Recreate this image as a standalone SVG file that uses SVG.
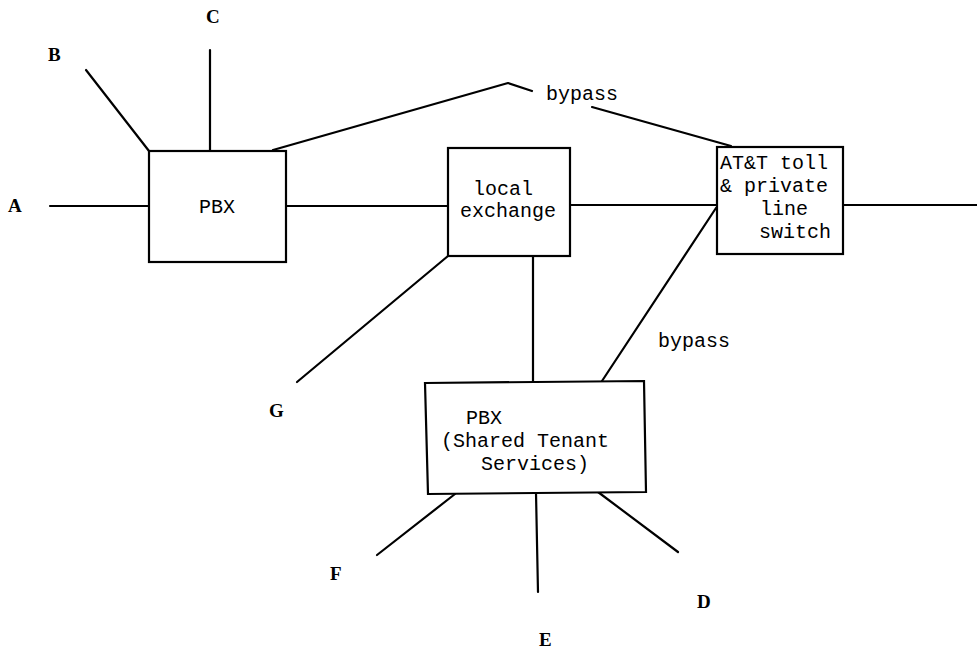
<svg xmlns="http://www.w3.org/2000/svg" width="977" height="651" viewBox="0 0 977 651">
<style>
.bx{fill:#fff;stroke:#000;stroke-width:2.2}
.ln{stroke:#000;stroke-width:2.2;fill:none;stroke-linecap:round;stroke-linejoin:round}
.t{font-family:"Liberation Mono","Courier New",monospace;font-size:20px;fill:#000}
.lb{font-family:"Liberation Serif","Times New Roman",serif;font-size:19px;font-weight:bold;fill:#000}
</style>
<rect width="977" height="651" fill="#fff"/>
<g id="connectors">
<line class="ln" x1="50" y1="206" x2="149" y2="206"/>
<line class="ln" x1="86" y1="70" x2="149" y2="151"/>
<line class="ln" x1="210" y1="50" x2="210" y2="151"/>
<polyline class="ln" points="273,150 508,83 532,91"/>
<line class="ln" x1="592" y1="107" x2="731" y2="146"/>
<line class="ln" x1="286" y1="206" x2="448" y2="206"/>
<line class="ln" x1="570" y1="205" x2="717" y2="205"/>
<line class="ln" x1="843" y1="205" x2="977" y2="205"/>
<line class="ln" x1="448" y1="256" x2="297" y2="382"/>
<line class="ln" x1="533" y1="256" x2="533" y2="382"/>
<line class="ln" x1="716" y1="208" x2="602" y2="381"/>
<line class="ln" x1="455" y1="494" x2="377" y2="555"/>
<line class="ln" x1="536" y1="493" x2="538" y2="592"/>
<line class="ln" x1="598" y1="492" x2="678" y2="552"/>
</g>
<g id="pbx1">
<rect class="bx" x="149" y="151" width="137" height="111"/>
<text class="t" x="199" y="213">PBX</text>
</g>
<g id="local-exchange">
<rect class="bx" x="448" y="148" width="122" height="108"/>
<text class="t" x="473" y="195">local</text>
<text class="t" x="460" y="217">exchange</text>
</g>
<g id="att">
<rect class="bx" x="717" y="147" width="126" height="107"/>
<text class="t" x="720" y="169">AT&amp;T toll</text>
<text class="t" x="720" y="192">&amp; private</text>
<text class="t" x="760" y="215">line</text>
<text class="t" x="759" y="238">switch</text>
</g>
<g id="pbx-sts">
<polygon class="bx" points="425,383 644,381 646,492 428,494"/>
<text class="t" x="466" y="424">PBX</text>
<text class="t" x="441" y="447">(Shared Tenant</text>
<text class="t" x="481" y="470">Services)</text>
</g>
<g id="labels">
<text class="t" x="546" y="100">bypass</text>
<text class="t" x="658" y="347">bypass</text>
<text class="lb" x="8" y="212">A</text>
<text class="lb" x="48" y="61">B</text>
<text class="lb" x="206" y="23">C</text>
<text class="lb" x="697" y="608">D</text>
<text class="lb" x="539" y="646">E</text>
<text class="lb" x="330" y="580">F</text>
<text class="lb" x="269" y="417">G</text>
</g>
</svg>
